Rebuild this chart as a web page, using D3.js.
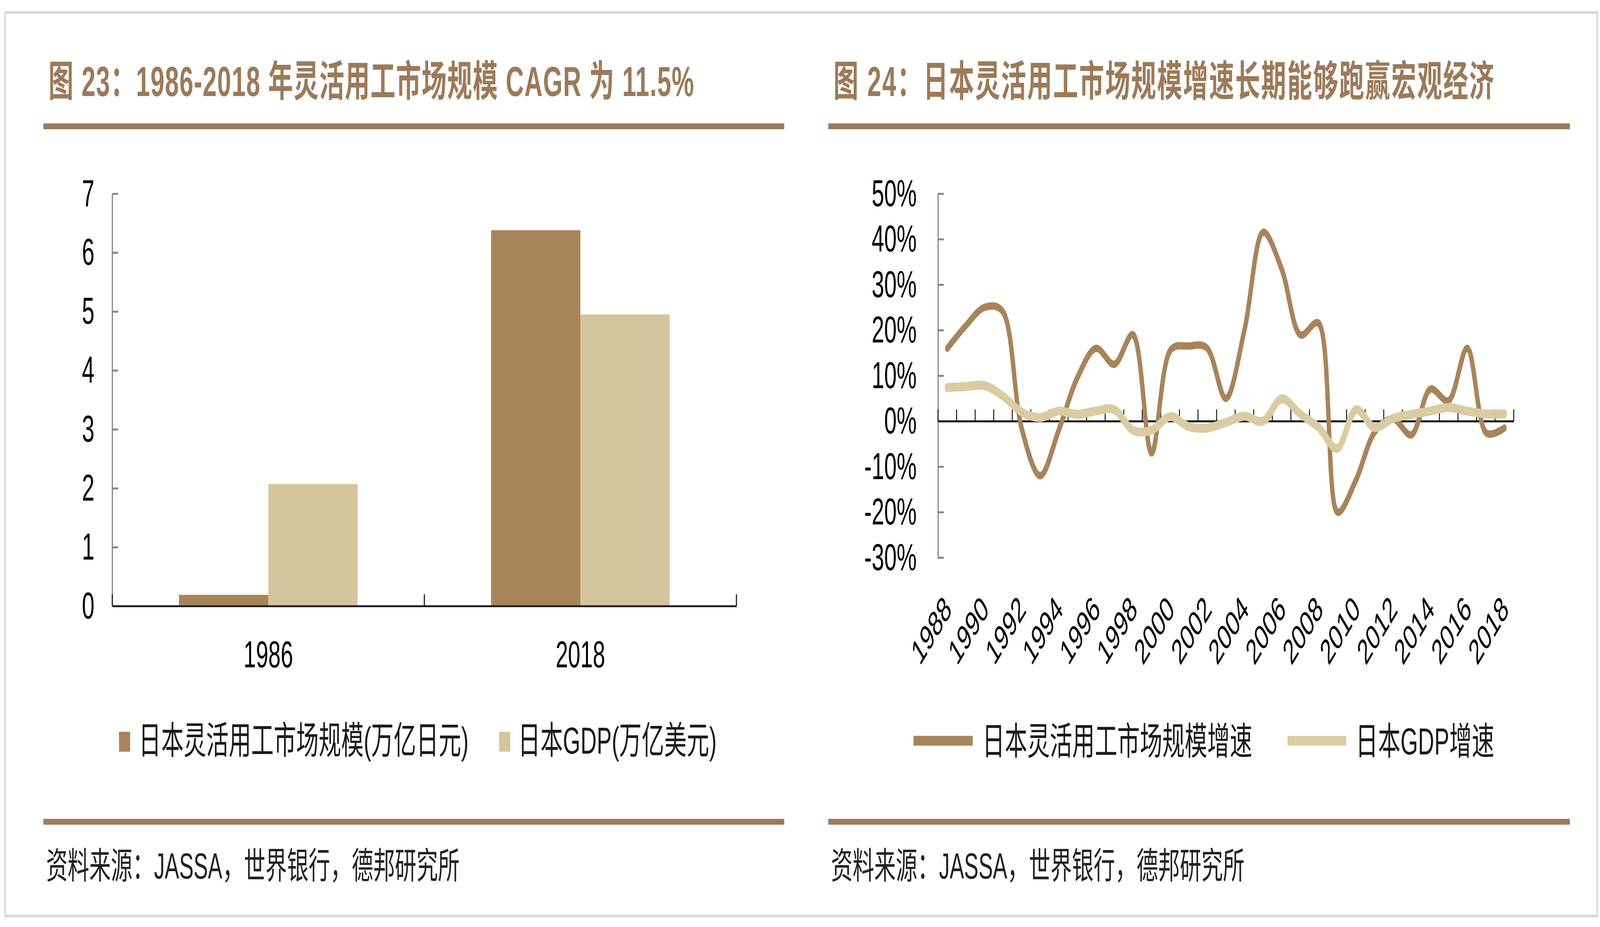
<!DOCTYPE html>
<html>
<head>
<meta charset="utf-8">
<script src="https://cdn.jsdelivr.net/npm/d3@7.9.0/dist/d3.min.js"></script>
<style>
  html, body { margin: 0; padding: 0; background: #fff; width: 100%; height: 100%; overflow: hidden; }
  svg { display: block; width: 100vw; height: 100vh; }
  text { font-family: "Liberation Sans", Arial, "Noto Sans CJK SC", sans-serif; }
</style>
</head>
<body>
<svg id="chart" viewBox="0 0 6898 2374" preserveAspectRatio="none"></svg>
<script>
// ---- data: figure 23 (bars) ----
const barYears = ['1986', '2018'];
const marketSize = [0.19, 6.38];   // 万亿日元
const gdpSize = [2.07, 4.95];      // 万亿美元
const barTicks = [0, 1, 2, 3, 4, 5, 6, 7];

// ---- data: figure 24 (lines, %) ----
const lineYears = ['1988', '1989', '1990', '1991', '1992', '1993', '1994', '1995', '1996', '1997',
  '1998', '1999', '2000', '2001', '2002', '2003', '2004', '2005', '2006', '2007',
  '2008', '2009', '2010', '2011', '2012', '2013', '2014', '2015', '2016', '2017', '2018'];
const marketGrowth = [16, 21, 25, 24, -1.5, -12, -2, 9.5, 16, 12.5,
  19, -7, 15.5, 16.5, 16, 5, 20, 41.5, 33.5, 19,
  21.5, -20, -13, -2.5, 0.5, -3, 7, 4.5, 16, -2.5, -1.5];
const gdpGrowth = [7.4, 7.6, 7.8, 5.5, 2, 0.8, 2.2, 1.5, 2.2, 2.5,
  -2, -2, 1, -1.2, -1.5, -0.3, 1.1, 0, 4.9, 1.6,
  -1.4, -6, 2.5, -1.4, 0.6, 1.5, 2.2, 3, 2.2, 1.6, 1.6];
const growthTicks = [-30, -20, -10, 0, 10, 20, 30, 40, 50];
const yearLabels = ['1988', '1990', '1992', '1994', '1996', '1998', '2000', '2002',
  '2004', '2006', '2008', '2010', '2012', '2014', '2016', '2018'];

const brown = '#a8845b';
const tan = '#d5c59c';
const tanLine = '#dacba2';
const titleColor = '#9c7a59';
const ruleColor = '#9b7b5d';

const svg = d3.select('#chart');

// outer frame
svg.append('rect')
  .attr('x', 22).attr('y', 32)
  .attr('width', 6864).attr('height', 2314)
  .attr('fill', 'none').attr('stroke', '#d9d9d9').attr('stroke-width', 7);

// title, rules and source for a panel
function drawPanel(x0, x1, titleX, title, titleLen) {
  svg.append('text')
    .attr('x', titleX).attr('y', 246)
    .attr('font-size', 108).attr('font-weight', 'bold')
    .attr('fill', titleColor)
    .attr('textLength', titleLen).attr('lengthAdjust', 'spacing')
    .text(title);
  svg.append('rect').attr('x', x0).attr('y', 316).attr('width', x1 - x0).attr('height', 15).attr('fill', ruleColor);
  svg.append('rect').attr('x', x0).attr('y', 2097).attr('width', x1 - x0).attr('height', 15).attr('fill', ruleColor);
  svg.append('text')
    .attr('x', x0 + 12).attr('y', 2250)
    .attr('font-size', 93).attr('fill', '#222')
    .text('资料来源：JASSA，世界银行，德邦研究所');
}

drawPanel(187, 3381, 209, '图 23：1986-2018 年灵活用工市场规模 CAGR 为 11.5%', 2783);
drawPanel(3571, 6768, 3593, '图 24：日本灵活用工市场规模增速长期能够跑赢宏观经济', 2849);

function styleAxis(g, color) {
  g.select('.domain').attr('stroke', color).attr('stroke-width', 5);
  g.selectAll('.tick line').attr('stroke', color).attr('stroke-width', 5);
  g.selectAll('.tick text').attr('font-size', 97).attr('fill', '#000');
}

// ---------- figure 23: grouped bars ----------
let x = d3.scaleBand().domain(barYears).range([484, 3175]);
let sub = d3.scaleBand().domain(['market', 'gdp']).range([0, x.bandwidth()]).paddingOuter(0.747);
let y = d3.scaleLinear().domain([0, 7]).range([1552, 496]);

let barData = barYears.map((yr, i) => ({ yr, market: marketSize[i], gdp: gdpSize[i] }));
let groups = svg.append('g').selectAll('g').data(barData).join('g')
  .attr('transform', (d) => `translate(${x(d.yr)},0)`);
groups.selectAll('rect')
  .data((d) => [{ key: 'market', v: d.market }, { key: 'gdp', v: d.gdp }])
  .join('rect')
  .attr('x', (d) => sub(d.key))
  .attr('width', sub.bandwidth())
  .attr('y', (d) => y(d.v))
  .attr('height', (d) => y(0) - y(d.v))
  .attr('fill', (d) => (d.key === 'market' ? brown : tan));

let yAxisL = svg.append('g').attr('transform', 'translate(484,0)')
  .call(d3.axisLeft(y).tickValues(barTicks).tickSizeInner(-25).tickSizeOuter(0).tickPadding(77).tickFormat(d3.format('d')));
styleAxis(yAxisL, '#868686');

let xAxisL = svg.append('g').attr('transform', `translate(0,${y(0)})`)
  .call(d3.axisBottom(x).tickValues([]).tickSizeOuter(0));
styleAxis(xAxisL, '#222');
let barEdges = barYears.map((d) => x(d)).concat([x.range()[1]]);
svg.append('g').selectAll('line').data(barEdges).join('line')
  .attr('x1', (d) => d).attr('x2', (d) => d)
  .attr('y1', y(0)).attr('y2', y(0) - 30)
  .attr('stroke', '#222').attr('stroke-width', 5);

svg.append('g').selectAll('text').data(barYears).join('text')
  .attr('x', (d) => x(d) + x.bandwidth() / 2)
  .attr('y', 1709)
  .attr('text-anchor', 'middle')
  .attr('font-size', 96)
  .text((d) => d);

// legend
let barLegend = [
  { label: '日本灵活用工市场规模(万亿日元)', color: brown, sx: 513, tx: 598 },
  { label: '日本GDP(万亿美元)', color: tan, sx: 2152, tx: 2233 }
];
barLegend.forEach((d) => {
  svg.append('rect').attr('x', d.sx).attr('y', 1874).attr('width', 48).attr('height', 51).attr('fill', d.color);
  svg.append('text').attr('x', d.tx).attr('y', 1930).attr('font-size', 97).attr('fill', '#1a1a1a').text(d.label);
});

// ---------- figure 24: growth lines ----------
let lx = d3.scaleBand().domain(lineYears).range([4044, 6526]);
let ly = d3.scaleLinear().domain([-30, 50]).range([1428, 496]);
let half = lx.bandwidth() / 2;

let yAxisR = svg.append('g').attr('transform', 'translate(4044,0)')
  .call(d3.axisLeft(ly).tickValues(growthTicks).tickSizeInner(-25).tickSizeOuter(0).tickPadding(92).tickFormat((d) => d + '%'));
styleAxis(yAxisR, '#868686');

let xAxisR = svg.append('g').attr('transform', `translate(0,${ly(0)})`)
  .call(d3.axisBottom(lx).tickValues([]).tickSizeOuter(0));
styleAxis(xAxisR, '#111');
let lineEdges = lineYears.map((d) => lx(d)).concat([lx.range()[1]]);
svg.append('g').selectAll('line').data(lineEdges).join('line')
  .attr('x1', (d) => d).attr('x2', (d) => d)
  .attr('y1', ly(0)).attr('y2', ly(0) - 30)
  .attr('stroke', '#111').attr('stroke-width', 4);

let line = d3.line()
  .x((d, i) => lx(lineYears[i]) + half)
  .y((d) => ly(d))
  .curve(d3.curveCatmullRom.alpha(0.5));

svg.append('path').attr('d', line(marketGrowth))
  .attr('fill', 'none').attr('stroke', brown).attr('stroke-width', 19)
  .attr('stroke-linejoin', 'round').attr('stroke-linecap', 'round');
svg.append('path').attr('d', line(gdpGrowth))
  .attr('fill', 'none').attr('stroke', tanLine).attr('stroke-width', 23)
  .attr('stroke-linejoin', 'round').attr('stroke-linecap', 'round');

svg.append('g').selectAll('text').data(yearLabels).join('text')
  .attr('transform', (d) => `translate(${lx(d) + half + 24},1565) rotate(-45)`)
  .attr('text-anchor', 'end')
  .attr('font-size', 90)
  .text((d) => d);

let lineLegend = [
  { label: '日本灵活用工市场规模增速', color: brown, x1: 3938, x2: 4194, tx: 4235 },
  { label: '日本GDP增速', color: tanLine, x1: 5551, x2: 5804, tx: 5844 }
];
lineLegend.forEach((d) => {
  svg.append('line').attr('x1', d.x1).attr('x2', d.x2).attr('y1', 1897).attr('y2', 1897)
    .attr('stroke', d.color).attr('stroke-width', 25);
  svg.append('text').attr('x', d.tx).attr('y', 1932).attr('font-size', 97).attr('fill', '#1a1a1a').text(d.label);
});
</script>
</body>
</html>
